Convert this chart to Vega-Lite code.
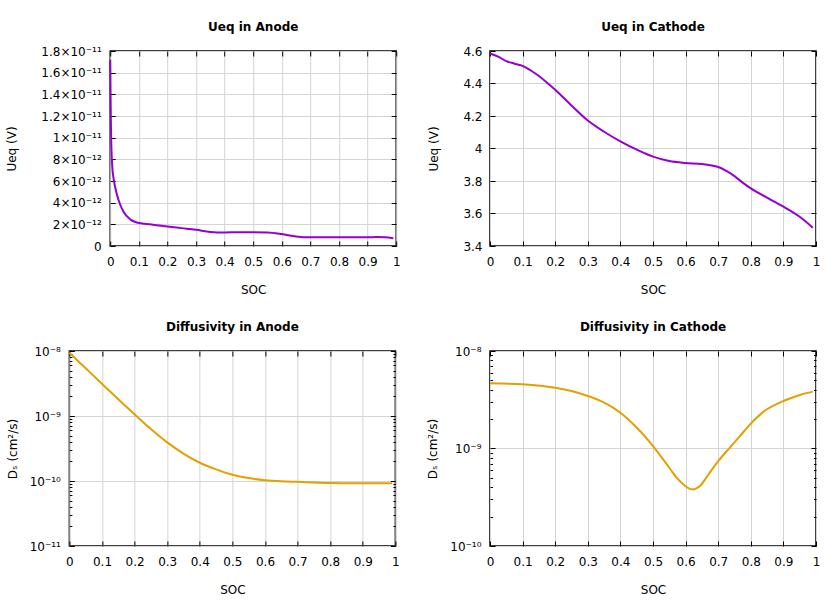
{
  "$schema": "https://vega.github.io/schema/vega-lite/v6.json",
  "background": "white",
  "padding": {"left": 5, "top": 20, "right": 5, "bottom": 5},
  "datasets": {
    "ua": [
      {"soc": 0, "v": 1.72e-11}, {"soc": 0.001, "v": 1.45e-11}, {"soc": 0.002, "v": 1.2e-11},
      {"soc": 0.004, "v": 9.2e-12}, {"soc": 0.007, "v": 7.4e-12}, {"soc": 0.012, "v": 6.2e-12},
      {"soc": 0.0175, "v": 5.4e-12}, {"soc": 0.029, "v": 4.25e-12}, {"soc": 0.0465, "v": 3.17e-12},
      {"soc": 0.07, "v": 2.46e-12}, {"soc": 0.093, "v": 2.17e-12}, {"soc": 0.12, "v": 2.05e-12},
      {"soc": 0.15, "v": 1.97e-12}, {"soc": 0.2, "v": 1.8e-12}, {"soc": 0.25, "v": 1.65e-12},
      {"soc": 0.3, "v": 1.5e-12}, {"soc": 0.35, "v": 1.3e-12}, {"soc": 0.4, "v": 1.25e-12},
      {"soc": 0.45, "v": 1.27e-12}, {"soc": 0.5, "v": 1.27e-12}, {"soc": 0.55, "v": 1.25e-12},
      {"soc": 0.6, "v": 1.1e-12}, {"soc": 0.65, "v": 0.88e-12}, {"soc": 0.7, "v": 0.8e-12},
      {"soc": 0.8, "v": 0.8e-12}, {"soc": 0.9, "v": 0.8e-12}, {"soc": 0.93, "v": 0.83e-12},
      {"soc": 0.96, "v": 0.8e-12}, {"soc": 0.99, "v": 0.72e-12}
    ],
    "uc": [
      {"soc": 0, "v": 4.585}, {"soc": 0.025, "v": 4.565}, {"soc": 0.05, "v": 4.538},
      {"soc": 0.075, "v": 4.522}, {"soc": 0.1, "v": 4.508}, {"soc": 0.125, "v": 4.48},
      {"soc": 0.15, "v": 4.446}, {"soc": 0.175, "v": 4.405}, {"soc": 0.2, "v": 4.362},
      {"soc": 0.25, "v": 4.265}, {"soc": 0.3, "v": 4.172}, {"soc": 0.35, "v": 4.103},
      {"soc": 0.4, "v": 4.044}, {"soc": 0.45, "v": 3.993}, {"soc": 0.5, "v": 3.95},
      {"soc": 0.55, "v": 3.923}, {"soc": 0.6, "v": 3.911}, {"soc": 0.65, "v": 3.904},
      {"soc": 0.7, "v": 3.886}, {"soc": 0.725, "v": 3.862}, {"soc": 0.75, "v": 3.83},
      {"soc": 0.775, "v": 3.79}, {"soc": 0.8, "v": 3.755}, {"soc": 0.85, "v": 3.697},
      {"soc": 0.9, "v": 3.642}, {"soc": 0.95, "v": 3.58}, {"soc": 0.99, "v": 3.513}
    ],
    "da": [
      {"soc": 0, "v": 9.4e-9}, {"soc": 0.05, "v": 5.43e-9}, {"soc": 0.1, "v": 3.13e-9},
      {"soc": 0.15, "v": 1.81e-9}, {"soc": 0.2, "v": 1.06e-9}, {"soc": 0.25, "v": 6.31e-10},
      {"soc": 0.3, "v": 3.93e-10}, {"soc": 0.35, "v": 2.64e-10}, {"soc": 0.4, "v": 1.91e-10},
      {"soc": 0.45, "v": 1.51e-10}, {"soc": 0.5, "v": 1.25e-10}, {"soc": 0.55, "v": 1.11e-10},
      {"soc": 0.6, "v": 1.03e-10}, {"soc": 0.65, "v": 9.9e-11}, {"soc": 0.7, "v": 9.7e-11},
      {"soc": 0.75, "v": 9.5e-11}, {"soc": 0.8, "v": 9.3e-11}, {"soc": 0.9, "v": 9.2e-11},
      {"soc": 0.99, "v": 9.2e-11}
    ],
    "dc": [
      {"soc": 0, "v": 4.66e-9}, {"soc": 0.1, "v": 4.55e-9}, {"soc": 0.2, "v": 4.2e-9},
      {"soc": 0.25, "v": 3.88e-9}, {"soc": 0.3, "v": 3.45e-9}, {"soc": 0.35, "v": 2.95e-9},
      {"soc": 0.4, "v": 2.33e-9}, {"soc": 0.45, "v": 1.64e-9}, {"soc": 0.5, "v": 1.06e-9},
      {"soc": 0.55, "v": 6.35e-10}, {"soc": 0.575, "v": 4.9e-10}, {"soc": 0.6, "v": 4.1e-10},
      {"soc": 0.61, "v": 3.9e-10}, {"soc": 0.62, "v": 3.81e-10}, {"soc": 0.63, "v": 3.85e-10},
      {"soc": 0.644, "v": 4.12e-10}, {"soc": 0.669, "v": 5.35e-10}, {"soc": 0.7, "v": 7.41e-10},
      {"soc": 0.7357, "v": 1.02e-9}, {"soc": 0.766, "v": 1.33e-9}, {"soc": 0.8, "v": 1.8e-9},
      {"soc": 0.846, "v": 2.48e-9}, {"soc": 0.9, "v": 3.07e-9}, {"soc": 0.951, "v": 3.54e-9},
      {"soc": 0.99, "v": 3.83e-9}
    ]
  },
  "columns": 2,
  "align": "each",
  "center": {"column": true, "row": false},
  "spacing": {"row": 24, "column": -16},
  "concat": [
    {
      "width": 286, "height": 195,
      "title": "Ueq in Anode",
      "data": {"name": "ua"},
      "layer": [
        {
          "mark": {"type": "line", "color": "#9400d3", "strokeWidth": 2, "interpolate": "monotone"},
          "encoding": {
            "x": {"field": "soc", "type": "quantitative", "scale": {"domain": [0, 1], "nice": false},
              "axis": {"orient": "bottom", "title": "SOC", "values": [0,0.1,0.2,0.3,0.4,0.5,0.6,0.7,0.8,0.9,1], "format": "~g", "labelFlush": false, "tickSize": -5, "labelPadding": 15, "titlePadding": 17}},
            "y": {"field": "v", "type": "quantitative", "scale": {"domain": [0, 1.8e-11], "nice": false, "zero": false},
              "axis": {"orient": "left", "title": "Ueq (V)", "values": [0,2e-12,4e-12,6e-12,8e-12,1e-11,1.2e-11,1.4e-11,1.6e-11,1.8e-11],
                "labelExpr": "datum.value == 0 ? '0' : format(datum.value / pow(10, floor(log(datum.value)/LN10 + 1e-9)), '~g') + '×10' + (floor(log(datum.value)/LN10 + 1e-9) == -11 ? '⁻¹¹' : '⁻¹²')",
                "tickSize": -5, "labelPadding": 14, "titlePadding": 22}}
          }
        },
        {
          "mark": {"type": "line", "opacity": 0},
          "encoding": {
            "x": {"field": "soc", "type": "quantitative", "axis": {"orient": "top", "title": null, "labels": false, "grid": false, "values": [0,0.1,0.2,0.3,0.4,0.5,0.6,0.7,0.8,0.9,1], "tickSize": -5}},
            "y": {"field": "v", "type": "quantitative", "axis": {"orient": "right", "title": null, "labels": false, "grid": false, "values": [0,2e-12,4e-12,6e-12,8e-12,1e-11,1.2e-11,1.4e-11,1.6e-11,1.8e-11], "tickSize": -5}}
          }
        }
      ],
      "resolve": {"axis": {"x": "independent", "y": "independent"}}
    },
    {
      "width": 326, "height": 195,
      "title": "Ueq in Cathode",
      "data": {"name": "uc"},
      "layer": [
        {
          "mark": {"type": "line", "color": "#9400d3", "strokeWidth": 2, "interpolate": "catmull-rom"},
          "encoding": {
            "x": {"field": "soc", "type": "quantitative", "scale": {"domain": [0, 1], "nice": false},
              "axis": {"orient": "bottom", "title": "SOC", "values": [0,0.1,0.2,0.3,0.4,0.5,0.6,0.7,0.8,0.9,1], "format": "~g", "labelFlush": false, "tickSize": -5, "labelPadding": 15, "titlePadding": 17}},
            "y": {"field": "v", "type": "quantitative", "scale": {"domain": [3.4, 4.6], "nice": false, "zero": false},
              "axis": {"orient": "left", "title": "Ueq (V)", "values": [3.4,3.6,3.8,4,4.2,4.4,4.6], "format": "~g",
                "tickSize": -5, "labelPadding": 13, "titlePadding": 22}}
          }
        },
        {
          "mark": {"type": "line", "opacity": 0},
          "encoding": {
            "x": {"field": "soc", "type": "quantitative", "axis": {"orient": "top", "title": null, "labels": false, "grid": false, "values": [0,0.1,0.2,0.3,0.4,0.5,0.6,0.7,0.8,0.9,1], "tickSize": -5}},
            "y": {"field": "v", "type": "quantitative", "axis": {"orient": "right", "title": null, "labels": false, "grid": false, "values": [3.4,3.6,3.8,4,4.2,4.4,4.6], "tickSize": -5}}
          }
        }
      ],
      "resolve": {"axis": {"x": "independent", "y": "independent"}}
    },
    {
      "width": 326, "height": 195,
      "title": "Diffusivity in Anode",
      "data": {"name": "da"},
      "layer": [
        {
          "mark": {"type": "line", "color": "#e69f00", "strokeWidth": 2, "interpolate": "catmull-rom"},
          "encoding": {
            "x": {"field": "soc", "type": "quantitative", "scale": {"domain": [0, 1], "nice": false},
              "axis": {"orient": "bottom", "title": "SOC", "values": [0,0.1,0.2,0.3,0.4,0.5,0.6,0.7,0.8,0.9,1], "format": "~g", "labelFlush": false, "tickSize": -5, "labelPadding": 15, "titlePadding": 17}},
            "y": {"field": "v", "type": "quantitative", "scale": {"type": "log", "domain": [1e-11, 1e-8], "nice": false},
              "axis": {"orient": "left", "title": "Dₛ (cm²/s)",
                "values": [1e-11,2e-11,3e-11,4e-11,5e-11,6e-11,7e-11,8e-11,9e-11,1e-10,2e-10,3e-10,4e-10,5e-10,6e-10,7e-10,8e-10,9e-10,1e-9,2e-9,3e-9,4e-9,5e-9,6e-9,7e-9,8e-9,9e-9,1e-8],
                "labelExpr": "abs(log(datum.value)/LN10 - round(log(datum.value)/LN10)) < 0.001 ? '10' + ({'-8': '⁻⁸', '-9': '⁻⁹', '-10': '⁻¹⁰', '-11': '⁻¹¹'})[round(log(datum.value)/LN10) + ''] : ''",
                "tickSize": {"condition": {"test": "abs(log(datum.value)/LN10 - round(log(datum.value)/LN10)) < 0.001", "value": -5}, "value": -2.5},
                "gridOpacity": {"condition": {"test": "abs(log(datum.value)/LN10 - round(log(datum.value)/LN10)) < 0.001", "value": 1}, "value": 0},
                "labelPadding": 14, "titlePadding": 10}}
          }
        },
        {
          "mark": {"type": "line", "opacity": 0},
          "encoding": {
            "x": {"field": "soc", "type": "quantitative", "axis": {"orient": "top", "title": null, "labels": false, "grid": false, "values": [0,0.1,0.2,0.3,0.4,0.5,0.6,0.7,0.8,0.9,1], "tickSize": -5}},
            "y": {"field": "v", "type": "quantitative", "axis": {"orient": "right", "title": " ", "titleOpacity": 0, "titlePadding": 32, "labels": false, "grid": false,
              "values": [1e-11,2e-11,3e-11,4e-11,5e-11,6e-11,7e-11,8e-11,9e-11,1e-10,2e-10,3e-10,4e-10,5e-10,6e-10,7e-10,8e-10,9e-10,1e-9,2e-9,3e-9,4e-9,5e-9,6e-9,7e-9,8e-9,9e-9,1e-8],
              "tickSize": {"condition": {"test": "abs(log(datum.value)/LN10 - round(log(datum.value)/LN10)) < 0.001", "value": -5}, "value": -2.5}}}
          }
        }
      ],
      "resolve": {"axis": {"x": "independent", "y": "independent"}}
    },
    {
      "width": 326, "height": 195,
      "title": "Diffusivity in Cathode",
      "data": {"name": "dc"},
      "layer": [
        {
          "mark": {"type": "line", "color": "#e69f00", "strokeWidth": 2, "interpolate": "catmull-rom"},
          "encoding": {
            "x": {"field": "soc", "type": "quantitative", "scale": {"domain": [0, 1], "nice": false},
              "axis": {"orient": "bottom", "title": "SOC", "values": [0,0.1,0.2,0.3,0.4,0.5,0.6,0.7,0.8,0.9,1], "format": "~g", "labelFlush": false, "tickSize": -5, "labelPadding": 15, "titlePadding": 17}},
            "y": {"field": "v", "type": "quantitative", "scale": {"type": "log", "domain": [1e-10, 1e-8], "nice": false},
              "axis": {"orient": "left", "title": "Dₛ (cm²/s)",
                "values": [1e-10,2e-10,3e-10,4e-10,5e-10,6e-10,7e-10,8e-10,9e-10,1e-9,2e-9,3e-9,4e-9,5e-9,6e-9,7e-9,8e-9,9e-9,1e-8],
                "labelExpr": "abs(log(datum.value)/LN10 - round(log(datum.value)/LN10)) < 0.001 ? '10' + ({'-8': '⁻⁸', '-9': '⁻⁹', '-10': '⁻¹⁰', '-11': '⁻¹¹'})[round(log(datum.value)/LN10) + ''] : ''",
                "tickSize": {"condition": {"test": "abs(log(datum.value)/LN10 - round(log(datum.value)/LN10)) < 0.001", "value": -5}, "value": -2.5},
                "gridOpacity": {"condition": {"test": "abs(log(datum.value)/LN10 - round(log(datum.value)/LN10)) < 0.001", "value": 1}, "value": 0},
                "labelPadding": 14, "titlePadding": 10}}
          }
        },
        {
          "mark": {"type": "line", "opacity": 0},
          "encoding": {
            "x": {"field": "soc", "type": "quantitative", "axis": {"orient": "top", "title": null, "labels": false, "grid": false, "values": [0,0.1,0.2,0.3,0.4,0.5,0.6,0.7,0.8,0.9,1], "tickSize": -5}},
            "y": {"field": "v", "type": "quantitative", "axis": {"orient": "right", "title": null, "labels": false, "grid": false,
              "values": [1e-10,2e-10,3e-10,4e-10,5e-10,6e-10,7e-10,8e-10,9e-10,1e-9,2e-9,3e-9,4e-9,5e-9,6e-9,7e-9,8e-9,9e-9,1e-8],
              "tickSize": {"condition": {"test": "abs(log(datum.value)/LN10 - round(log(datum.value)/LN10)) < 0.001", "value": -5}, "value": -2.5}}}
          }
        }
      ],
      "resolve": {"axis": {"x": "independent", "y": "independent"}}
    }
  ],
  "config": {
    "font": "DejaVu Sans",
    "view": {"stroke": "#000000", "strokeWidth": 1.5},
    "title": {"font": "DejaVu Sans", "fontSize": 12, "fontWeight": "bold", "color": "#000000", "offset": 11, "anchor": "middle"},
    "axis": {
      "labelFont": "DejaVu Sans", "labelFontSize": 12, "labelColor": "#000000",
      "titleFont": "DejaVu Sans", "titleFontSize": 12, "titleFontWeight": "normal", "titleColor": "#000000",
      "tickColor": "#000000", "tickWidth": 1, "domain": false,
      "grid": true, "gridColor": "#d4d4d4", "gridWidth": 1
    }
  }
}
